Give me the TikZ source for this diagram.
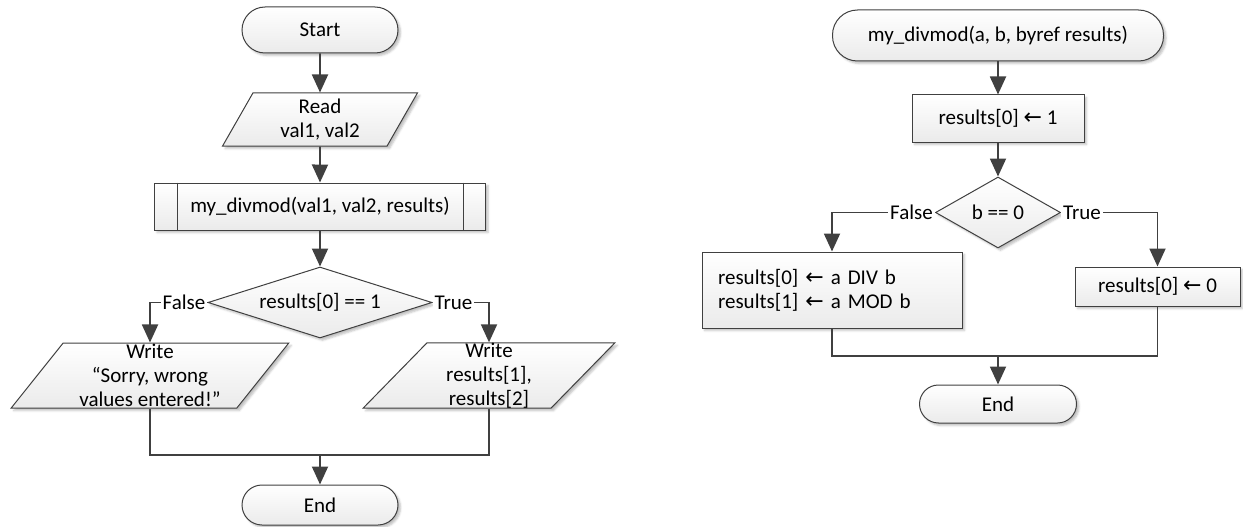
\documentclass[tikz,border=0pt]{standalone}
\usepackage{fontspec}
\setmainfont{Carlito}
\newfontfamily\arrowfont{DejaVu Sans}
\newcommand{\getsarrow}{{\arrowfont\fontsize{22}{24}\selectfont ←}}
\usetikzlibrary{arrows.meta,calc,shapes.geometric,shadows.blur}
\definecolor{linegray}{HTML}{404040}

\begin{document}
\begin{tikzpicture}[x=1pt,y=-1pt,>={Triangle[length=18pt,width=16pt]},
  font=\fontsize{21}{24}\selectfont,
  box/.style={draw=linegray,line width=1pt,top color=white,bottom color=gray!16,
    blur shadow={shadow xshift=2.5pt,shadow yshift=-2.5pt,shadow blur radius=2pt,shadow opacity=25},
    inner sep=0pt,align=center},
  term/.style={box,rounded corners=#1},
  io/.style={box,trapezium,trapezium stretches=true},
  decision/.style={box,diamond,aspect=#1},
  flow/.style={draw=linegray,line width=1.9pt},
  lbl/.style={fill=white,inner xsep=2pt,inner ysep=1pt}]
  \useasboundingbox (0,0) rectangle (1243,527);
  % main program
  \node[term=23pt,minimum width=156pt,minimum height=46pt] (start) at (320,30) {Start};
  \node[io,trapezium left angle=66.5,trapezium right angle=113.5,
        minimum width=195pt,minimum height=53pt] (read) at (320,119.5) {Read\\val1, val2};
  \node[box,minimum width=331pt,minimum height=47pt] (sub) at (320,206.5) {my\_divmod(val1, val2, results)};
  \draw[linegray,line width=1pt] ($(sub.north west)+(23,0)$) -- ($(sub.south west)+(23,0)$);
  \draw[linegray,line width=1pt] ($(sub.north east)+(-23,0)$) -- ($(sub.south east)+(-23,0)$);
  \node[decision=3.15,minimum width=224pt,minimum height=71pt] (dec1) at (320,302.5) {results[0] == 1};
  \node[io,trapezium left angle=56,trapezium right angle=124,
        minimum width=278pt,minimum height=65pt] (wl) at (150,375.5) {Write\\“Sorry, wrong\\values entered!”};
  \node[io,trapezium left angle=56,trapezium right angle=124,
        minimum width=252pt,minimum height=65pt] (wr) at (489,375.5) {Write\\results[1],\\results[2]};
  \coordinate (m1) at (320,455);
  \node[term=20pt,minimum width=156pt,minimum height=40pt] (end1) at (320,505) {End};

  % subprogram
  \node[term=25pt,minimum width=331pt,minimum height=51pt] (fn) at (998,35.5) {my\_divmod(a, b, byref results)};
  \node[box,minimum width=172pt,minimum height=47pt] (init) at (998,118.5) {results[0] \getsarrow{} 1};
  \node[decision=1.76,minimum width=125pt,minimum height=71pt] (dec2) at (998,212.5) {b == 0};
  \node[box,minimum width=260pt,minimum height=76pt,text width=228pt,align=left] (bl) at (832,290)
    {results[0] \getsarrow{} a DIV b\\results[1] \getsarrow{} a MOD b};
  \node[box,minimum width=165pt,minimum height=39pt] (br) at (1157.5,286.5) {results[0] \getsarrow{} 0};
  \coordinate (m2) at (998,356);
  \node[term=19pt,minimum width=157pt,minimum height=38pt] (end2) at (998,404) {End};

  % connectors
  \foreach \a/\b in {start/read,read/sub,sub/dec1,fn/init,init/dec2}
    \draw[flow,->] (\a.south) -- (\b.north);
  \draw[flow,->] (dec1.west) -| (wl.north);
  \draw[flow,->] (dec1.east) -| (wr.north);
  \draw[flow] (wl.south) |- (m1);
  \draw[flow] (wr.south) |- (m1);
  \draw[flow,->] (m1) -- (end1.north);
  \draw[flow,->] (dec2.west) -| (bl.north);
  \draw[flow,->] (dec2.east) -| (br.north);
  \draw[flow] (bl.south) |- (m2);
  \draw[flow] (br.south) |- (m2);
  \draw[flow,->] (m2) -- (end2.north);
  \node[lbl,anchor=east] (f1) at (dec1.west) {False};
  \node[lbl,anchor=west] (t1) at (dec1.east) {True};
  \node[lbl,anchor=east] (f2) at (dec2.west) {False};
  \node[lbl,anchor=west] (t2) at (dec2.east) {True};
\end{tikzpicture}
\end{document}
